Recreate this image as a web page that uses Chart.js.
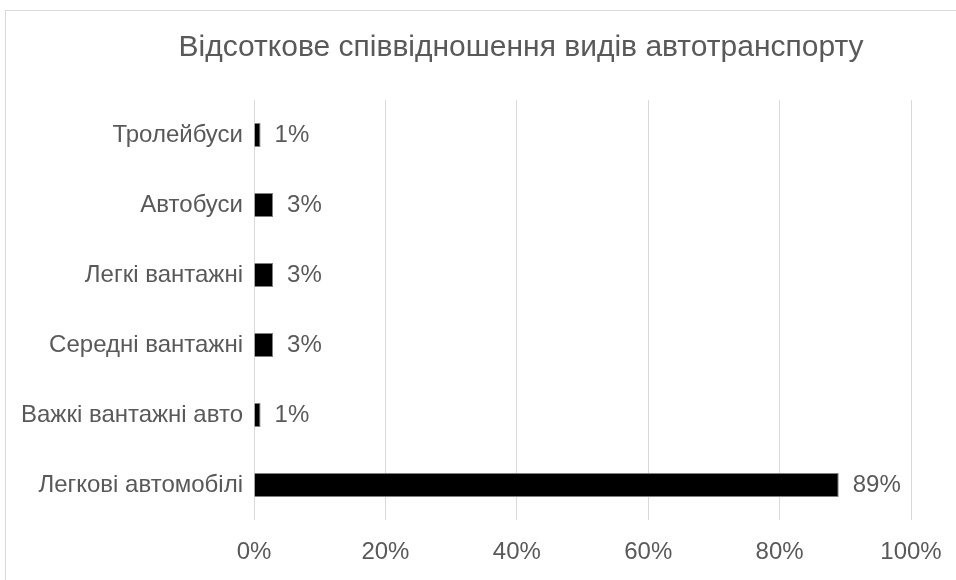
<!DOCTYPE html>
<html lang="uk">
<head>
<meta charset="UTF-8">
<title>Відсоткове співвідношення видів автотранспорту</title>
<script src="https://cdn.jsdelivr.net/npm/chart.js"></script>
<style>
    html, body {
        margin: 0;
        padding: 0;
        background: #fff;
        overflow: hidden;
    }
    .frame {
        position: absolute;
        left: 5px;
        top: 10px;
        width: 1200px;
        height: 1200px;
        border: 1px solid #d9d9d9;
    }
    #myChart {
        position: absolute;
        left: 0;
        top: 0;
    }
</style>
</head>
<body>
<div class="frame"></div>
<canvas id="myChart" width="956" height="580"></canvas>
<script>
    const chartTitle = "Відсоткове співвідношення видів автотранспорту";
    const categories = ["Тролейбуси", "Автобуси", "Легкі вантажні", "Середні вантажні", "Важкі вантажні авто", "Легкові автомобілі"];
    const shares = [1, 2.9, 2.9, 2.9, 1, 89];
    const xTicks = [0, 20, 40, 60, 80, 100];

    const textColor = "#595959";
    const fontFamily = "'Liberation Sans', Arial, sans-serif";

    // title drawn by hand so it can sit off-centre like the original
    const titlePlugin = {
        id: "offsetTitle",
        afterDraw(chart) {
            const ctx = chart.ctx;
            ctx.save();
            ctx.font = "30px " + fontFamily;
            ctx.fillStyle = textColor;
            ctx.textAlign = "center";
            ctx.textBaseline = "middle";
            ctx.fillText(chartTitle, 521, 48);
            ctx.restore();
        }
    };

    // value labels at the end of each bar
    const valueLabels = {
        id: "valueLabels",
        afterDatasetsDraw(chart) {
            const ctx = chart.ctx;
            const meta = chart.getDatasetMeta(0);
            ctx.save();
            ctx.font = "24px " + fontFamily;
            ctx.fillStyle = textColor;
            ctx.textAlign = "left";
            ctx.textBaseline = "middle";
            meta.data.forEach((bar, i) => {
                ctx.fillText(Math.round(shares[i]) + "%", bar.x + 14, bar.y);
            });
            ctx.restore();
        }
    };

    new Chart(document.getElementById("myChart"), {
        type: "bar",
        data: {
            labels: categories,
            datasets: [{
                data: shares,
                backgroundColor: "#000000",
                borderColor: "#7f7f7f",
                borderWidth: 1,
                categoryPercentage: 1,
                barPercentage: 0.34
            }]
        },
        options: {
            indexAxis: "y",
            responsive: false,
            animation: false,
            layout: {
                padding: { top: 100, right: 45, bottom: 0, left: 0 }
            },
            plugins: {
                legend: { display: false },
                title: { display: false },
                tooltip: { enabled: false }
            },
            scales: {
                x: {
                    min: 0,
                    max: 100,
                    afterBuildTicks: (scale) => {
                        scale.ticks = xTicks.map(v => ({ value: v }));
                    },
                    afterFit: (scale) => {
                        scale.height = 60;
                        // let layout.padding decide the plot edges
                        scale.paddingLeft = 0;
                        scale.paddingRight = 0;
                    },
                    grid: { color: "#d9d9d9", drawTicks: false },
                    border: { display: false },
                    ticks: {
                        color: textColor,
                        font: { family: fontFamily, size: 24 },
                        padding: 18,
                        callback: (v) => v + "%"
                    }
                },
                y: {
                    afterFit: (scale) => { scale.width = 254; },
                    grid: { display: false, drawTicks: false },
                    border: { display: false },
                    ticks: {
                        color: textColor,
                        font: { family: fontFamily, size: 24 },
                        padding: 11
                    }
                }
            }
        },
        plugins: [titlePlugin, valueLabels]
    });
</script>
</body>
</html>
